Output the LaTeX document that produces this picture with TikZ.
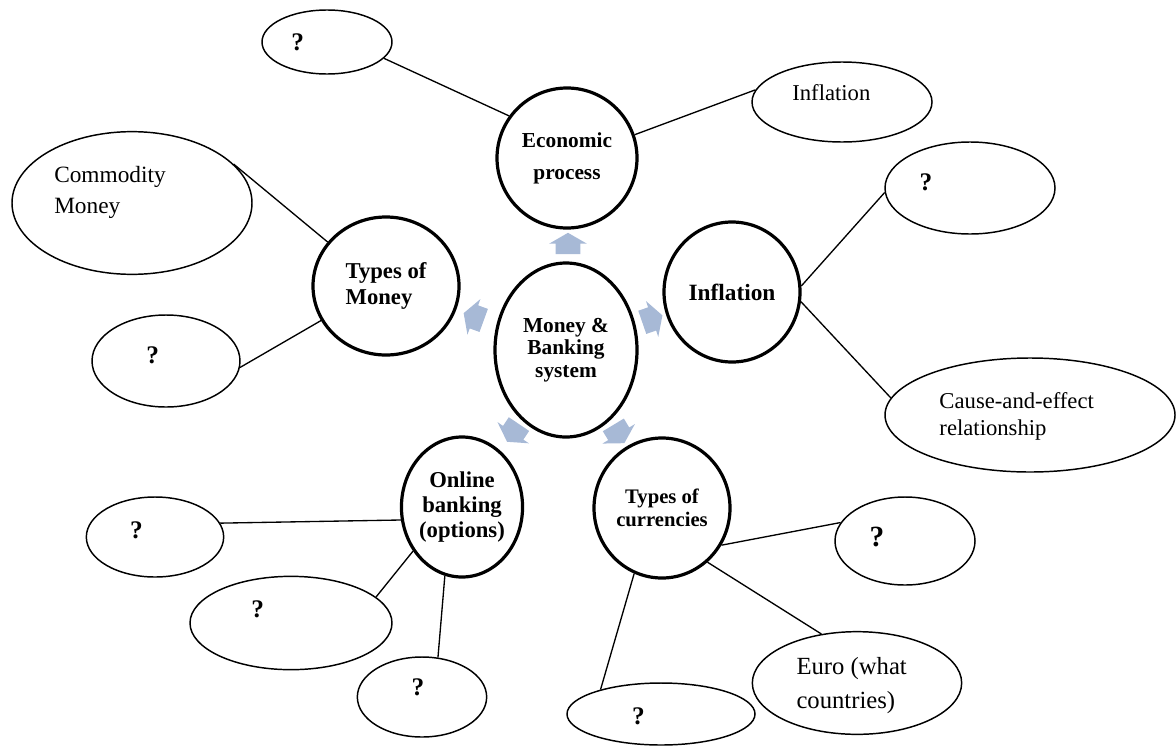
\documentclass[tikz,border=0pt]{standalone}
\usepackage{fontspec}
\setmainfont{Liberation Serif}
\usetikzlibrary{shapes.geometric}
\usetikzlibrary{shapes.arrows}
\definecolor{flowblue}{RGB}{167,185,214}
\tikzset{
	topic/.style={draw=black,line width=2.4pt,ellipse,inner sep=0pt,align=center},
	leaf/.style={draw=black,line width=1.1pt,ellipse,inner sep=0pt},
	flow/.style={single arrow,fill=flowblue,draw=none,inner xsep=0pt,inner ysep=9pt,minimum height=16pt,single arrow head extend=5pt,single arrow tip angle=120},
	link/.style={draw=black,line width=1pt},
	qmark/.style={font=\bfseries\fontsize{19}{20}\selectfont},
	note/.style={align=left,font=\fontsize{17}{20}\selectfont}
}

\begin{document}
\begin{tikzpicture}[x=0.75pt,y=-0.75pt]
	\useasboundingbox (0,0) rectangle (1176,746);
	% centre and the five topics
	\node[topic,minimum width=106.5pt,minimum height=130.5pt,font=\bfseries\fontsize{16}{17}\selectfont] (hub) at (566,350) {Money \&\\Banking\\system};
	\node[topic,minimum width=105pt,minimum height=105pt,font=\bfseries\fontsize{16}{24}\selectfont] (econ) at (567,158) {Economic\\process};
	\node[topic,minimum width=102pt,minimum height=105pt,font=\bfseries\fontsize{17.5}{20}\selectfont] (infl) at (732,292) {Inflation};
	\node[topic,minimum width=109.5pt,minimum height=103.5pt,align=left,font=\bfseries\fontsize{17}{19}\selectfont] (money) at (386,286) {Types of\\Money};
	\node[topic,minimum width=90pt,minimum height=105pt,font=\bfseries\fontsize{17}{18.5}\selectfont] (online) at (462,507) {Online\\banking\\(options)};
	\node[topic,minimum width=102pt,minimum height=105pt,font=\bfseries\fontsize{15.5}{17}\selectfont] (curr) at (662,508) {Types of\\currencies};
	% block arrows out of the centre
	\node[flow,rotate=90] (toecon) at (568,247) {};
	\node[flow,rotate=160] (tomoney) at (477,318) {};
	\node[flow,rotate=19] (toinfl) at (649,320) {};
	\node[flow,rotate=236] (toonline) at (515,430) {};
	\node[flow,rotate=-59] (tocurr) at (617,431) {};
	% outer ellipses
	\node[leaf,minimum width=97.5pt,minimum height=48pt,label={[qmark,xshift=-22pt]center:?}] (econq) at (327,42) {};
	\node[leaf,minimum width=135pt,minimum height=60pt,label={[note,xshift=-8pt,yshift=7pt]center:Inflation}] (econinfl) at (842,102) {};
	\node[leaf,minimum width=127.5pt,minimum height=69pt,label={[qmark,xshift=-33pt,yshift=4.5pt]center:?}] (inflq) at (970,188) {};
	\node[leaf,minimum width=217.5pt,minimum height=85.5pt,label={[note,xshift=-10pt,yshift=-1pt]center:Cause-and-effect\\relationship}] (inflcause) at (1030,415) {};
	\node[leaf,minimum width=180pt,minimum height=107pt,label={[note,font=\fontsize{17.5}{23}\selectfont,xshift=-16.5pt,yshift=8pt]center:Commodity\\Money}] (moneycomm) at (132,203) {};
	\node[leaf,minimum width=111pt,minimum height=69pt,label={[qmark,xshift=-10pt,yshift=4.5pt]center:?}] (moneyq) at (166,361) {};
	\node[leaf,minimum width=103pt,minimum height=60pt,label={[qmark,xshift=-14pt,yshift=5pt]center:?}] (onlineqa) at (155,537) {};
	\node[leaf,minimum width=151.5pt,minimum height=70pt,label={[qmark,xshift=-25pt,yshift=10pt]center:?}] (onlineqb) at (291,623) {};
	\node[leaf,minimum width=97pt,minimum height=60pt,label={[qmark,xshift=-3pt,yshift=7pt]center:?}] (onlineqc) at (422,697) {};
	\node[leaf,minimum width=105pt,minimum height=66pt,label={[qmark,font=\bfseries\fontsize{22}{24}\selectfont,xshift=-21pt,yshift=3pt]center:?}] (currqa) at (905,541) {};
	\node[leaf,minimum width=157pt,minimum height=77pt,label={[note,font=\fontsize{18.5}{26}\selectfont,xshift=-4pt,yshift=-2pt]center:Euro (what\\countries)}] (curreuro) at (857,683) {};
	\node[leaf,minimum width=141pt,minimum height=46.5pt,label={[qmark,xshift=-17pt,yshift=-2pt]center:?}] (currqb) at (661,714) {};
	% connectors
	\draw[link] (econ.144) -- (econq.-16);
	\draw[link] (econ.19) -- (econinfl.172);
	\draw[link] (infl.5) -- (inflq.183);
	\draw[link] (infl.-8) -- (inflcause.173);
	\draw[link] (money.143) -- (moneycomm.21);
	\draw[link] (money.208) -- (moneyq.-5);
	\draw[link] (online.192) -- (onlineqa.12);
	\draw[link] (online.222) -- (onlineqb.17);
	\draw[link] (online.256) -- (onlineqc.68);
	\draw[link] (curr.-32) -- (currqa.164);
	\draw[link] (curr.-50) -- (curreuro.126);
	\draw[link] (curr.247) -- (currqb.158);
\end{tikzpicture}
\end{document}
